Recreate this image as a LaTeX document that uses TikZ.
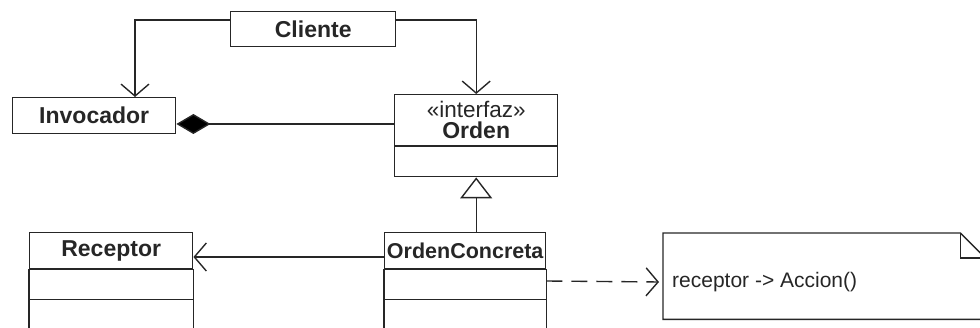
\documentclass[tikz,border=0pt]{standalone}
\usepackage{fontspec}
\setmainfont{Liberation Sans}
\usetikzlibrary{positioning, arrows.meta, calc}

\tikzset{
  umlline/.style={draw=black!85, line width=1.4pt},
  classbox/.style={umlline, rectangle, inner sep=0pt, anchor=north west, text=black!85},
  classname/.style={font=\fontsize{23}{24}\selectfont\bfseries, text=black!85, inner sep=0pt},
  plaintext/.style={font=\fontsize{21}{23}\selectfont, text=black!85, inner sep=0pt},
  assoc/.style={umlline, -{Straight Barb[length=12pt, width=28pt, line width=1.4pt]}},
  compo/.style={umlline, -{Diamond[length=34pt, width=20pt, fill=black]}},
  gener/.style={umlline, -{Triangle[open, length=21pt, width=32pt, fill=white, line width=1.4pt]}},
  depend/.style={umlline, dash pattern=on 16pt off 9pt, -{Straight Barb[length=12pt, width=28pt, line width=1.4pt]}}
}

\begin{document}
\begin{tikzpicture}[x=1pt, y=-1pt]
  \useasboundingbox (0,0) rectangle (980,328);
  \clip (0,0) rectangle (980,328);

  % Cliente and Invocador
  \node[classbox, minimum width=165pt, minimum height=35pt] (cliente) at (230,11) {};
  \node[classname] at (cliente.center) {Cliente};
  \node[classbox, minimum width=163pt, minimum height=36pt] (invocador) at (12,97) {};
  \node[classname] at (invocador.center) {Invocador};

  % Orden (interfaz)
  \node[classbox, minimum width=163pt, minimum height=82pt] (orden) at (394,94) {};
  \node[plaintext, font=\fontsize{22.5}{24}\selectfont] (ordenster) at ($(orden.north)+(0,15)$) {«interfaz»};
  \node[classname] (ordenname) at ($(orden.north)+(0,36)$) {Orden};
  \draw[umlline] ($(orden.north west)+(0,52)$) -- ($(orden.north east)+(0,52)$);

  % Receptor and OrdenConcreta, compartments run off the page
  \node[classbox, minimum width=163pt, minimum height=36pt] (receptor) at (29,232) {};
  \node[classname] at (receptor.center) {Receptor};
  \node[classbox, minimum width=161pt, minimum height=36pt] (concreta) at (384,232) {};
  \node[classname, font=\fontsize{21.5}{24}\selectfont\bfseries] at (concreta.center) {OrdenConcreta};
  \foreach \cls in {receptor, concreta} {
    \draw[umlline] (\cls.south west) rectangle (\cls.south east |- 0,360);
    \draw[umlline] ($(\cls.south west)+(0,30)$) -- ($(\cls.south east)+(0,30)$);
  }

  % Note
  \node[anchor=north west, minimum width=322pt, minimum height=86pt, inner sep=0pt] (nota) at (663,233) {};
  \draw[umlline] (nota.north west) -- ($(nota.north east)+(-25,0)$) -- ($(nota.north east)+(0,25)$)
    -- (nota.south east) -- (nota.south west) -- cycle;
  \draw[umlline] ($(nota.north east)+(-25,0)$) -- ($(nota.north east)+(-25,25)$) -- ($(nota.north east)+(0,25)$);
  \node[plaintext, anchor=west] (accion) at ($(nota.north west)+(9,49)$) {receptor -> Accion()};

  % Connectors
  \draw[assoc] ($(cliente.north west)+(0,9)$) -| ($(invocador.north west)+(123,0)$);
  \draw[assoc] ($(cliente.north east)+(0,9)$) -| (orden.north);
  \draw[compo] ($(orden.north west)+(0,30)$) -- ($(invocador.north east)+(0,27)$);
  \draw[gener] (concreta.north -| orden.south) -- (orden.south);
  \draw[assoc] ($(concreta.north west)+(0,25)$) -- ($(receptor.north east)+(0,25)$);
  \draw[depend] ($(concreta.north east)+(0,49)$) -- ($(nota.north west)+(-4,49)$);
\end{tikzpicture}
\end{document}
